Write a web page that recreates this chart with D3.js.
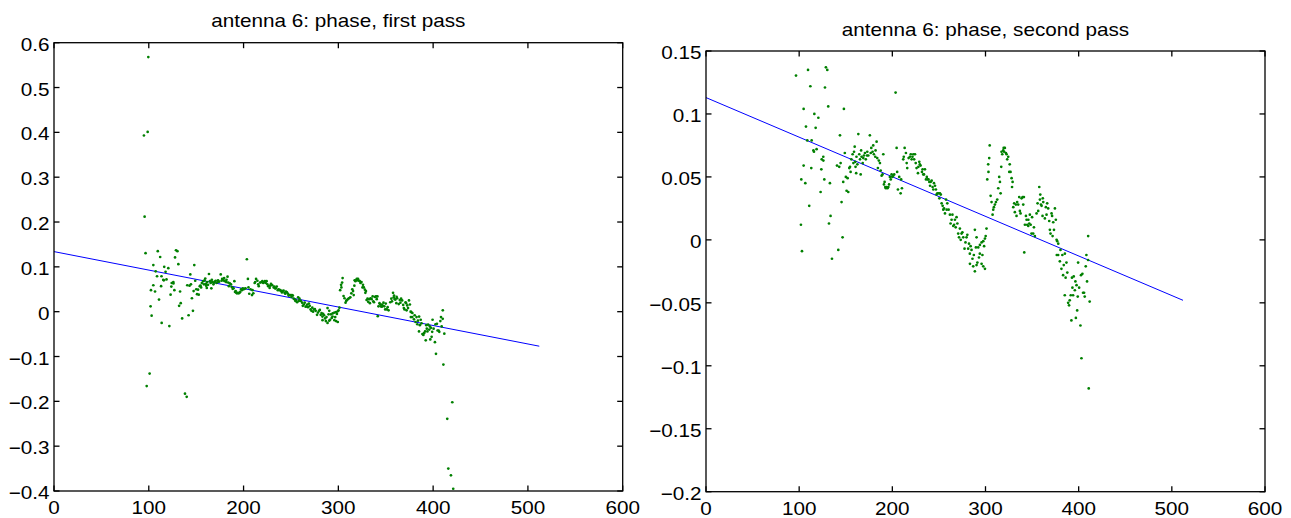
<!DOCTYPE html>
<html>
<head>
<meta charset="utf-8">
<script src="https://cdn.jsdelivr.net/npm/d3@7"></script>
<style>
  html, body { margin: 0; padding: 0; background: #fff; }
  svg { display: block; }
  text { font-family: "Liberation Sans", Arial, Helvetica, sans-serif; fill: #000; }
</style>
</head>
<body>
<svg id="chart" width="1291" height="518"></svg>
<script>
// ---------------- DATA ----------------
const titles = ["antenna 6: phase, first pass", "antenna 6: phase, second pass"];

const xTicks = [0, 100, 200, 300, 400, 500, 600];
const xTickLabels = ["0", "100", "200", "300", "400", "500", "600"];

const yTicksPass1 = [-0.4, -0.3, -0.2, -0.1, 0, 0.1, 0.2, 0.3, 0.4, 0.5, 0.6];
const yTickLabelsPass1 = ["\u22120.4", "\u22120.3", "\u22120.2", "\u22120.1", "0", "0.1", "0.2", "0.3", "0.4", "0.5", "0.6"];

const yTicksPass2 = [-0.2, -0.15, -0.1, -0.05, 0, 0.05, 0.1, 0.15];
const yTickLabelsPass2 = ["\u22120.2", "\u22120.15", "\u22120.1", "\u22120.05", "0", "0.05", "0.1", "0.15"];

// linear fit lines (endpoints)
const fitPass1 = [[0, 0.134], [512, -0.077]];
const fitPass2 = [[0, 0.113], [512, -0.048]];

// samples kept in both passes [x, phase]
const keptPoints = [
  [96.6,0.1305],[101.9,0.012],[102.3,0.048],[103,-0.009],[104.8,0.104],[104.8,0.059],[106.6,0.045],
  [107.3,0.090],[108.7,0.079],[109.5,0.135],[110.8,0.027],[112,0.122],[113,0.057],[113.4,0.079],
  [115.3,0.071],[115.9,0.070],[116.3,0.100],[117.7,0.089],[118.7,0.072],[120.6,0.097],[123,0.038],
  [123.8,0.056],[124.2,0.064],[125.9,0.066],[126,0.063],[127,0.048],[127.7,0.121],[128.7,0.137],
  [130.2,0.135],[131.2,0.106],[132,0.013],[133,0.045],[133.7,0.019],[135.2,-0.015],[140.6,0.059],
  [142,-0.008],[143,0.058],[143.8,0.083],[144.5,0.061],[145.5,0.030],[146.6,0.002],[147.3,0.046],
  [148,0.104],[149,0.069],[150.1,0.050],[150.9,0.039],[152,0.049],[152.7,0.038],[153.8,0.057],
  [154.6,0.058],[155.2,0.054],[156,0.064],[157.4,0.068],[158.2,0.061],[158.9,0.070],[159.6,0.074],
  [160.2,0.062],[160.5,0.058],[161.2,0.053],[161.5,0.066],[162.5,0.060],[163.5,0.084],[164.5,0.068],
  [165.3,0.064],[166,0.052],[166.5,0.071],[167,0.066],[168.2,0.061],[168.8,0.065],[169.5,0.067],
  [170.6,0.069],[171.5,0.064],[172.8,0.067],[173.1,0.070],[174.2,0.067],[175.9,0.083],[176.8,0.069],
  [177.4,0.073],[178.8,0.070],[179.5,0.075],[180.2,0.068],[181.7,0.066],[182,0.071],[183.1,0.078],
  [183.8,0.065],[184.5,0.057],[185.5,0.063],[186.7,0.061],[187.5,0.055],[188.5,0.051],[189.5,0.052],
  [190.3,0.068],[191,0.044],[191.7,0.046],[192.4,0.042],[193,0.041],[193.9,0.042],[194.8,0.041],
  [195.7,0.042],[196.5,0.044],[197.4,0.050],[198.3,0.048],[199.2,0.052],[200,0.050],[201,0.051],
  [202,0.052],[203.5,0.117],[204.6,0.073],[205.2,0.054],[206,0.040],[207.4,0.050],[208.9,0.037],
  [209.5,0.048],[210.3,0.041],[211.7,0.064],[212.3,0.066],[213.2,0.073],[214.6,0.069],[215.4,0.061],
  [216,0.057],[217.5,0.065],[218.9,0.066],[219.8,0.068],[220.7,0.064],[221.6,0.066],[222.5,0.068],
  [223.4,0.064],[224.3,0.068],[225.1,0.061],[226,0.057],[227.5,0.053],[228,0.058],[228.9,0.062],
  [229.5,0.060],[230.3,0.059],[231.8,0.054],[232.5,0.056],[233.2,0.052],[234,0.052],[235,0.056],
  [236.1,0.048],[237,0.050],[237.9,0.048],[238.8,0.048],[239.7,0.046],[240.5,0.043],[241.1,0.046],
  [242.2,0.047],[243.2,0.042],[244,0.040],[244.7,0.045],[245.8,0.043],[246.8,0.040],[247.5,0.036],
  [248.3,0.037],[249.7,0.037],[250.5,0.033],[251.1,0.037],[252,0.036],[252.9,0.029],[254,0.027],
  [254.7,0.024],[255.5,0.025],[256.5,0.021],[257.6,0.032],[258.3,0.024],[259,0.029],[260.4,0.024],
  [261.8,0.020],[262.5,0.013],[263.6,0.016],[264.5,0.020],[265.4,0.011],[266.3,0.012],[267.2,0.016],
  [268,0.010],[268.9,0.018],[269.8,0.013],[270.7,0.005],[271.6,0.002],[272.5,0.009],[273.4,0.000],
  [274.3,0.005],[275.2,0.006],[276.1,0.002],[277.5,-0.007],[278.5,-0.002],[279.6,0.002],[280.5,0.004],
  [281.4,-0.007],[282.3,-0.003],[283.2,-0.011],[283.3,-0.019],[284,-0.005],[285,-0.008],[286,-0.015],
  [286.8,-0.021],[287.5,-0.012],[288.6,0.008],[288.6,-0.025],[289.7,-0.006],[290.4,0.002],[290.4,-0.020],
  [291.3,-0.018],[292.2,-0.006],[293,-0.014],[293.9,-0.011],[294,-0.004],[295.8,-0.002],[295.8,-0.019],
  [296.7,-0.012],[297.6,-0.001],[297.6,-0.021],[298.5,-0.005],[299.4,0.001],[299.4,-0.023],[300.2,0.003],
  [301.1,0.009],[301.9,0.048],[302.9,0.060],[303.2,0.054],[304,0.065],[304.5,0.075],[305.5,0.035],
  [306.5,0.030],[307.6,0.020],[308.3,0.024],[309,0.026],[310.1,0.028],[311.2,0.030],[312.6,0.032],
  [313.7,0.041],[314.7,0.050],[315.5,0.046],[316.2,0.037],[316.9,0.058],[317.2,0.070],[318,0.068],
  [319,0.071],[319.5,0.073],[320,0.070],[320.8,0.073],[321.9,0.069],[322.6,0.068],[323.3,0.064],
  [324.4,0.066],[325.5,0.054],[326,0.060],[326.9,0.054],[328,0.049],[328.5,0.042],[329.1,0.046],
  [329.8,0.026],[330.8,0.029],[331.5,0.022],[332.6,0.028],[333.3,0.019],[334,0.030],[335.1,0.028],
  [336.2,0.034],[336.9,0.023],[337.6,0.021],[338.7,0.033],[339.8,0.034],[340.5,0.028],[341.2,0.034],
  [341.6,-0.010],[342.3,0.012],[343.4,0.019],[344.1,0.016],[344.8,0.012],[345.9,0.011],[346,0.016],
  [347,0.013],[347.6,0.020],[348.5,0.012],[349.4,0.005],[350,0.018],[351.2,0.005],[352,0.010],
  [353,0.003],[354.8,0.021],[355.9,0.029],[356.6,0.023],[357.7,0.042],[358.4,0.032],[358.8,0.036],
  [359.5,0.028],[360.2,0.027],[361.2,0.019],[361.5,0.033],[362,0.030],[363.7,0.017],[364.8,0.026],
  [365.5,0.020],[366.2,0.029],[367.3,0.025],[368.4,0.015],[369.1,0.008],[369.8,0.005],[370.9,0.021],
  [371.5,0.019],[372,0.003],[372.7,0.014],[373.5,0.008],[374.5,0.025],[375.5,0.016],[376.3,0.000],
  [376.5,-0.012],[377,-0.001],[378,-0.012],[378.1,-0.003],[379.8,-0.017],[380.5,-0.008],[381.5,-0.023],
  [382.5,-0.012],[383.3,-0.028],[384,-0.020],[385.1,-0.044],[385.2,-0.011],[386,-0.030],[386.9,-0.018],
  [387.8,-0.026],[388.7,-0.050],[389.7,-0.052],[390.4,-0.048],[391.5,-0.044],[392.2,-0.064],[392.8,-0.030],
  [393.3,-0.038],[394,-0.044],[394.7,-0.029],[395.9,-0.040],[396.5,-0.033],[397,-0.062],[397.7,-0.036],
  [398.4,-0.056],[399,-0.045],[399.4,-0.018],[400.5,-0.038],[401.9,-0.068],[402.5,-0.028],[403,-0.094],
  [404,-0.027],[404.7,-0.042],[405.8,-0.042],[406.5,-0.045],[407.6,-0.021],[408.3,-0.012],[409,-0.033],
  [410.1,-0.016],[410.2,0.003],[410.8,-0.118],[411.8,-0.049]
];

// samples rejected after the first pass (only drawn in the first panel)
const rejectedPoints = [
  [99.5,0.568],[94.9,0.393],[98.8,0.401],[95.6,0.212],[97.8,-0.166],[100.9,-0.138],
  [113.6,-0.025],[121.7,-0.032],[138.2,-0.183],[140,-0.190],
  [414.9,-0.239],[416,-0.350],[418.8,-0.365],[420.2,-0.202],[421.2,-0.395]
];

// ---------------- DRAWING ----------------
const svg = d3.select("#chart");
const FONT = 18, SX = 1.15;

function text(g, x, y, s, anchor, size) {
  g.append("text")
    .attr("transform", `translate(${x},${y}) scale(${SX},1)`)
    .attr("text-anchor", anchor)
    .style("font-size", (size || FONT) + "px")
    .text(s);
}

function panel(cfg) {
  const x = d3.scaleLinear().domain([0, 600]).range([cfg.left, cfg.right]);
  const y = d3.scaleLinear().domain(cfg.yDomain).range([cfg.bottom, cfg.top]);
  const g = svg.append("g");
  const clipId = "clip" + cfg.id;
  g.append("clipPath").attr("id", clipId).append("rect")
    .attr("x", cfg.left).attr("y", cfg.top)
    .attr("width", cfg.right - cfg.left).attr("height", cfg.bottom - cfg.top);

  const plot = g.append("g").attr("clip-path", `url(#${clipId})`);
  plot.append("path")
    .datum(cfg.fit)
    .attr("d", d3.line().x(d => x(d[0])).y(d => y(d[1])))
    .attr("fill", "none").attr("stroke", "#0000ff").attr("stroke-width", 1);
  plot.selectAll("circle").data(cfg.points).join("circle")
    .attr("cx", d => x(d[0])).attr("cy", d => y(d[1]))
    .attr("r", 1.35).attr("fill", "#008000");

  const T = 5.5;
  const ax = g.append("g").attr("stroke", "#000").attr("stroke-width", 1.3).attr("fill", "none");
  ax.append("rect").attr("x", cfg.left).attr("y", cfg.top)
    .attr("width", cfg.right - cfg.left).attr("height", cfg.bottom - cfg.top);
  xTicks.forEach(v => {
    const px = x(v);
    ax.append("line").attr("x1", px).attr("x2", px).attr("y1", cfg.bottom).attr("y2", cfg.bottom - T);
    ax.append("line").attr("x1", px).attr("x2", px).attr("y1", cfg.top).attr("y2", cfg.top + T);
  });
  cfg.yTicks.forEach(v => {
    const py = y(v);
    ax.append("line").attr("x1", cfg.left).attr("x2", cfg.left + T).attr("y1", py).attr("y2", py);
    ax.append("line").attr("x1", cfg.right).attr("x2", cfg.right - T).attr("y1", py).attr("y2", py);
  });
  xTicks.forEach((v, i) => text(g, x(v), cfg.bottom + 23, xTickLabels[i], "middle"));
  cfg.yTicks.forEach((v, i) => text(g, cfg.left - 4.5, y(v) + 8, cfg.yLabels[i], "end"));
  text(g, (cfg.left + cfg.right) / 2, cfg.top - 15.5, cfg.title, "middle");
}

panel({
  id: 1, left: 54, right: 622.7, top: 42.7, bottom: 491,
  yDomain: [-0.4, 0.6], yTicks: yTicksPass1, yLabels: yTickLabelsPass1,
  fit: fitPass1, points: keptPoints.concat(rejectedPoints), title: titles[0]
});
panel({
  id: 2, left: 706, right: 1265, top: 51, bottom: 491.7,
  yDomain: [-0.2, 0.15], yTicks: yTicksPass2, yLabels: yTickLabelsPass2,
  fit: fitPass2, points: keptPoints, title: titles[1]
});
</script>
</body>
</html>
